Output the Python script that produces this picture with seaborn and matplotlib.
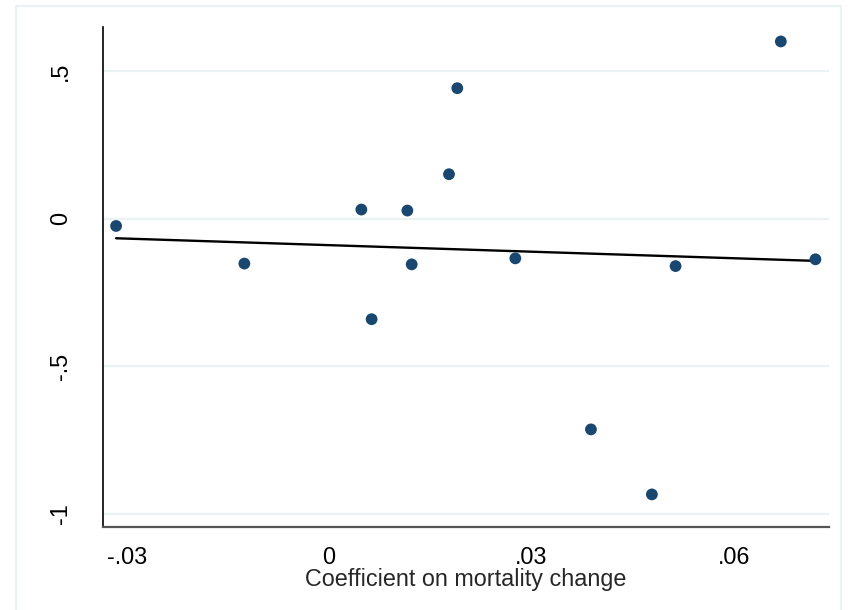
import matplotlib
matplotlib.use("Agg")
import matplotlib.pyplot as plt
import seaborn as sns
import pandas as pd
from matplotlib.patches import Rectangle

# Data
mortality_coef = [-0.03156, -0.01255, 0.00479, 0.00631, 0.01161, 0.01225, 0.01778,
                  0.01901, 0.02761, 0.03882, 0.04785, 0.05136, 0.06696, 0.07209]
outcome = [-0.0251, -0.1525, 0.0305, -0.3410, 0.0271, -0.1552, 0.1502,
           0.4417, -0.1349, -0.7143, -0.9346, -0.1610, 0.6000, -0.1380]
x_ticks = [-0.03, 0, 0.03, 0.06]
x_tick_labels = ["-.03", "0", ".03", ".06"]
y_ticks = [-1, -0.5, 0, 0.5]
y_tick_labels = ["-1", "-.5", "0", ".5"]
x_label = "Coefficient on mortality change"

df = pd.DataFrame({"x": mortality_coef, "y": outcome})

sns.set_style("white")
plt.rcParams["font.family"] = ["Liberation Sans", "DejaVu Sans"]

fig = plt.figure(figsize=(8.52, 6.10), dpi=100)
fig.patch.set_facecolor("white")
ax = fig.add_axes([103 / 852, 1 - 526.7 / 610, (829 - 103) / 852, (526.7 - 27) / 610])

# light outer frame
fig.patches.append(Rectangle((16 / 852, -0.02), (841 - 16) / 852, 1.02 - 6 / 610,
                             transform=fig.transFigure, fill=False,
                             edgecolor="#eaf2f3", linewidth=1.6, zorder=0))

for yt in y_ticks:
    ax.axhline(yt, color="#eaf2f3", linewidth=1.6, zorder=0)

sns.regplot(data=df, x="x", y="y", ax=ax, ci=None, truncate=True,
            scatter_kws=dict(s=72, color="#1a476f", edgecolor="none", zorder=3, alpha=1),
            line_kws=dict(color="black", linewidth=1.7, zorder=2))

ax.set_xlim(-0.0335, 0.0741)
ax.set_ylim(-1.044, 0.649)
ax.set_xticks(x_ticks)
ax.set_xticklabels(x_tick_labels)
ax.set_yticks(y_ticks)
ax.set_yticklabels(y_tick_labels, rotation=90, va="center")
ax.tick_params(axis="both", direction="out", length=6.5, width=1, colors="black",
               labelsize=16.8)
ax.tick_params(axis="x", pad=7.5)
ax.tick_params(axis="y", pad=16)
ax.set_xlabel(x_label, fontsize=16.8, labelpad=-1)
ax.set_ylabel("")

for side in ["top", "right"]:
    ax.spines[side].set_visible(False)
ax.spines["left"].set_color("black")
ax.spines["left"].set_linewidth(1.2)
ax.spines["bottom"].set_color("#555555")
ax.spines["bottom"].set_linewidth(1.6)
ax.set_facecolor("white")

fig.savefig("out.png", dpi=100, facecolor="white")
